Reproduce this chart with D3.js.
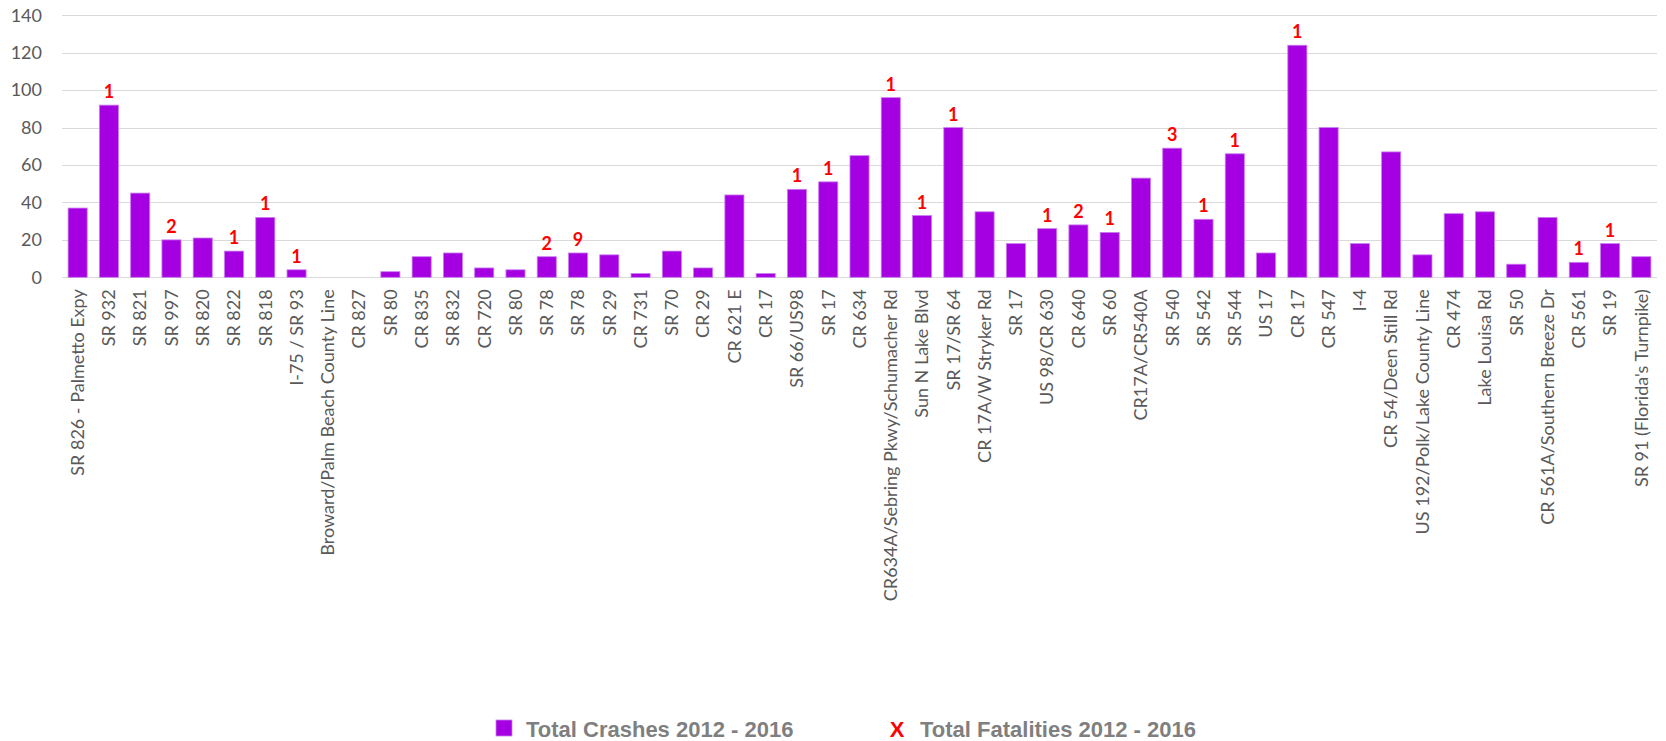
<!DOCTYPE html>
<html>
<head>
<meta charset="utf-8">
<script src="https://cdn.jsdelivr.net/npm/d3@7"></script>
<style>
  html, body { margin: 0; padding: 0; background: #fff; }
  svg { display: block; }
</style>
</head>
<body>
<svg id="chart" width="1666" height="741"></svg>
<script>
const categories = [
  "SR 826 - Palmetto Expy", "SR 932", "SR 821", "SR 997", "SR 820", "SR 822", "SR 818",
  "I-75 / SR 93", "Broward/Palm Beach County Line", "CR 827", "SR 80", "CR 835", "SR 832",
  "CR 720", "SR 80", "SR 78", "SR 78", "SR 29", "CR 731", "SR 70", "CR 29", "CR 621 E",
  "CR 17", "SR 66/US98", "SR 17", "CR 634", "CR634A/Sebring Pkwy/Schumacher Rd",
  "Sun N Lake Blvd", "SR 17/SR 64", "CR 17A/W Stryker Rd", "SR 17", "US 98/CR 630",
  "CR 640", "SR 60", "CR17A/CR540A", "SR 540", "SR 542", "SR 544", "US 17", "CR 17",
  "CR 547", "I-4", "CR 54/Deen Still Rd", "US 192/Polk/Lake County Line", "CR 474",
  "Lake Louisa Rd", "SR 50", "CR 561A/Southern Breeze Dr", "CR 561", "SR 19",
  "SR 91 (Florida's Turnpike)"
];
const crashes = [
  37, 92, 45, 20, 21, 14, 32,
  4, 0, 0, 3, 11, 13,
  5, 4, 11, 13, 12, 2, 14, 5, 44,
  2, 47, 51, 65, 96,
  33, 80, 35, 18, 26,
  28, 24, 53, 69, 31, 66, 13, 124,
  80, 18, 67, 12, 34,
  35, 7, 32, 8, 18,
  11
];
const fatalities = [
  null, 1, null, 2, null, 1, 1,
  1, null, null, null, null, null,
  null, null, 2, 9, null, null, null, null, null,
  null, 1, 1, null, 1,
  1, 1, null, null, 1,
  2, 1, null, 3, 1, 1, null, 1,
  null, null, null, null, null,
  null, null, null, 1, 1,
  null
];
const yTicks = [0, 20, 40, 60, 80, 100, 120, 140];
const legendLabels = ["Total Crashes 2012 - 2016", "Total Fatalities 2012 - 2016"];

const svg = d3.select("#chart");
const plotLeft = 62, plotRight = 1657, plotTop = 15.3, plotBottom = 277.3;

const x = d3.scaleBand().domain(d3.range(categories.length)).range([plotLeft, plotRight]).paddingInner(0.39).paddingOuter(0.195);
const y = d3.scaleLinear().domain([0, 140]).range([plotBottom, plotTop]);

// gridlines
const grid = svg.append("g").attr("transform", `translate(${plotLeft},0)`)
  .call(d3.axisLeft(y).tickValues(yTicks).tickSize(-(plotRight - plotLeft)).tickFormat(""));
grid.select(".domain").remove();
grid.selectAll(".tick line").attr("stroke", "#d9d9d9").attr("stroke-width", 1).attr("shape-rendering", "crispEdges");

// y axis labels
const yAxis = svg.append("g").attr("transform", `translate(${plotLeft - 20},0)`)
  .call(d3.axisLeft(y).tickValues(yTicks).tickSize(0).tickPadding(0));
yAxis.select(".domain").remove();
yAxis.selectAll(".tick text")
  .attr("font-family", "Lato, 'Open Sans', sans-serif")
  .attr("font-size", 18)
  .attr("fill", "#595959");

// bars
svg.append("g").selectAll("rect").data(crashes).join("rect")
  .attr("x", (d, i) => x(i))
  .attr("width", x.bandwidth())
  .attr("y", d => y(d))
  .attr("height", d => plotBottom - y(d))
  .attr("fill", "#a500e2")
  .attr("stroke", "#c97df0")
  .attr("stroke-width", 0.8);

// fatality labels
svg.append("g").selectAll("text").data(fatalities.map((f, i) => ({f, i})).filter(d => d.f != null)).join("text")
  .attr("x", d => x(d.i) + x.bandwidth() / 2)
  .attr("y", d => y(crashes[d.i]) - 7)
  .attr("text-anchor", "middle")
  .attr("font-family", "Lato, 'Open Sans', sans-serif")
  .attr("font-weight", "bold")
  .attr("font-size", 18)
  .attr("fill", "#ff0000")
  .text(d => d.f);

// x axis labels
const xAxis = svg.append("g").attr("transform", `translate(0,${plotBottom + 12})`)
  .call(d3.axisBottom(x).tickSize(0).tickPadding(0).tickFormat(i => categories[i]));
xAxis.select(".domain").remove();
xAxis.selectAll(".tick text")
  .attr("font-family", "Lato, 'Open Sans', sans-serif")
  .attr("font-size", 18)
  .attr("fill", "#595959")
  .attr("text-anchor", "end")
  .attr("transform", "rotate(-90)")
  .attr("x", 0)
  .attr("y", 0)
  .attr("dy", "0.35em");

// legend
const lg = svg.append("g");
lg.append("rect").attr("x", 496).attr("y", 720).attr("width", 16).attr("height", 16)
  .attr("fill", "#a500e2").attr("stroke", "#c97df0").attr("stroke-width", 0.8);
lg.append("text").attr("x", 526).attr("y", 736.5)
  .attr("font-family", "'Liberation Sans', Arial, sans-serif").attr("font-weight", "bold")
  .attr("font-size", 22).attr("fill", "#7f7f7f").text(legendLabels[0]);
lg.append("text").attr("x", 897).attr("y", 736.5).attr("text-anchor", "middle")
  .attr("font-family", "'Liberation Sans', Arial, sans-serif").attr("font-weight", "bold")
  .attr("font-size", 22).attr("fill", "#ff0000").text("X");
lg.append("text").attr("x", 920).attr("y", 736.5)
  .attr("font-family", "'Liberation Sans', Arial, sans-serif").attr("font-weight", "bold")
  .attr("font-size", 22).attr("fill", "#7f7f7f").text(legendLabels[1]);
</script>
</body>
</html>
